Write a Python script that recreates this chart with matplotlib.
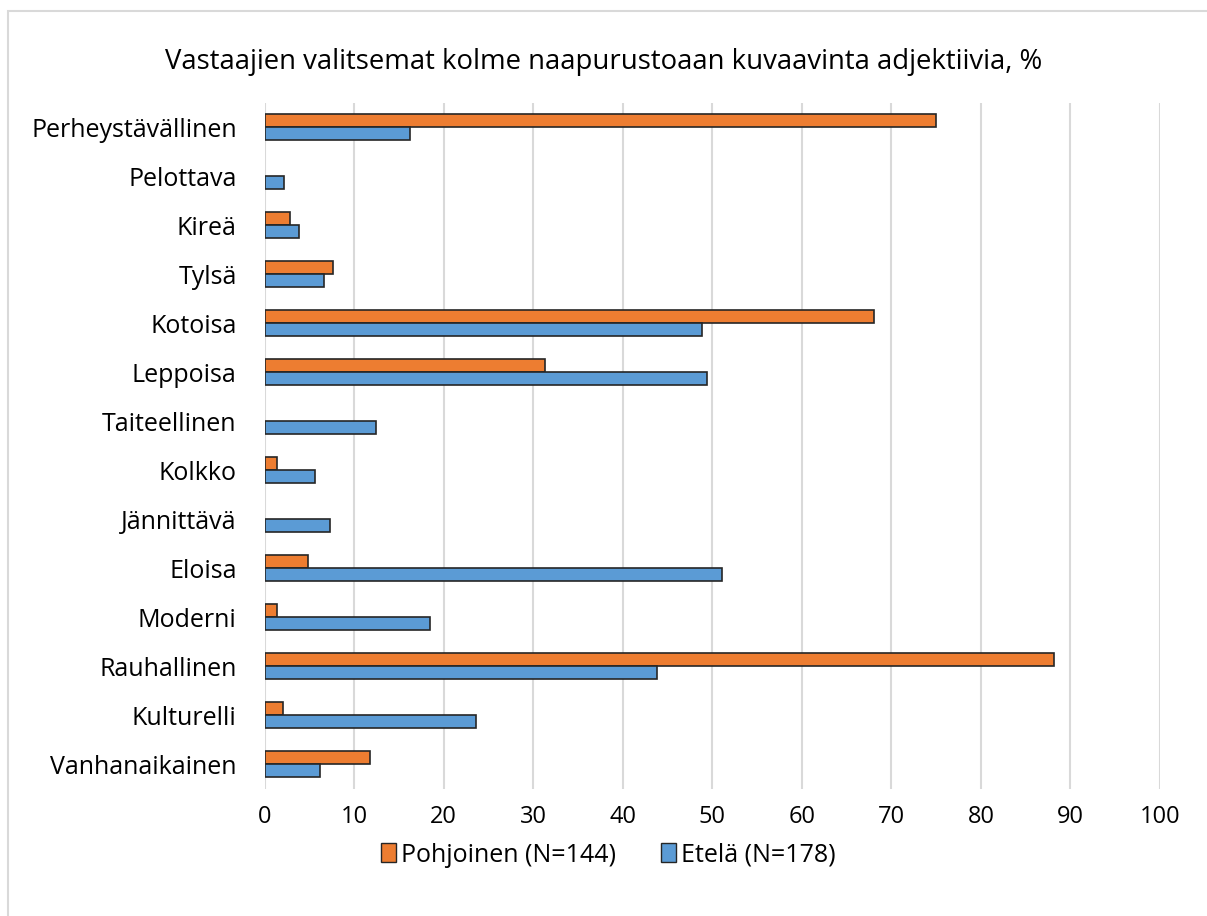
import matplotlib.pyplot as plt
from matplotlib.patches import Rectangle, Patch

categories = ['Perheystävällinen', 'Pelottava', 'Kireä', 'Tylsä', 'Kotoisa', 'Leppoisa',
              'Taiteellinen', 'Kolkko', 'Jännittävä', 'Eloisa', 'Moderni', 'Rauhallinen',
              'Kulturelli', 'Vanhanaikainen']
pohjoinen = [75.0, 0, 2.8, 7.6, 68.1, 31.3, 0, 1.4, 0, 4.9, 1.4, 88.2, 2.1, 11.8]
etela = [16.3, 2.2, 3.9, 6.7, 48.9, 49.4, 12.4, 5.6, 7.3, 51.1, 18.5, 43.8, 23.6, 6.2]
xticks = list(range(0, 101, 10))

plt.rcParams['font.family'] = ['Open Sans', 'DejaVu Sans']

fig = plt.figure(figsize=(12.07, 9.16), dpi=100)
ax = fig.add_axes([264.5 / 1207, 1 - 788.5 / 916, (1160 - 264.5) / 1207, (788.5 - 102.5) / 916])

orange = '#ed7d31'
blue = '#5b9bd5'
edge = '#262626'
h = 0.27
ypos = list(range(len(categories)))
ax.barh([y - h / 2 for y in ypos], pohjoinen, height=h, color=orange, edgecolor=edge,
        linewidth=[1.2 if v else 0 for v in pohjoinen])
ax.barh([y + h / 2 for y in ypos], etela, height=h, color=blue, edgecolor=edge,
        linewidth=[1.2 if v else 0 for v in etela])

ax.set_xlim(0, 100)
ax.set_ylim(len(categories) - 0.5, -0.5)
ax.set_xticks(xticks)
ax.set_yticks(ypos)
ax.set_yticklabels(categories, fontsize=18)
ax.tick_params(axis='x', labelsize=17, length=0, pad=12)
ax.tick_params(axis='y', length=0, pad=20)
ax.grid(axis='x', color='#d9d9d9', linewidth=1.5)
ax.set_axisbelow(True)
for s in ax.spines.values():
    s.set_visible(False)

fig.text(0.5, 1 - 62 / 916, 'Vastaajien valitsemat kolme naapurustoaan kuvaavinta adjektiivia, %',
         ha='center', va='center', fontsize=19.8)

handles = [Patch(facecolor=orange, edgecolor=edge, label='Pohjoinen (N=144)'),
           Patch(facecolor=blue, edgecolor=edge, label='Etelä (N=178)')]
fig.legend(handles=handles, loc='center', bbox_to_anchor=(608 / 1207, 1 - 855 / 916), ncol=2,
           frameon=False, fontsize=18, handlelength=0.6, handleheight=0.8, handletextpad=0.2,
           columnspacing=1.8)

fig.patches.append(Rectangle((8 / 1207, -0.1), 1.2, 1.1 - 11 / 916, transform=fig.transFigure,
                             fill=False, edgecolor='#d9d9d9', linewidth=1.5))

fig.savefig('out.png', dpi=100)
